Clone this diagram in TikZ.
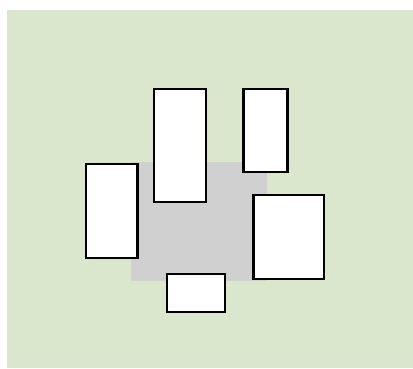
\documentclass[tikz,border=0pt]{standalone}
\definecolor{bggreen}{RGB}{218,231,204}
\definecolor{midgray}{RGB}{208,208,208}
\begin{document}
\begin{tikzpicture}[x=1pt,y=-1pt,
  box/.style={draw=black, fill=white, line width=2.4pt, inner sep=0pt, rectangle}]
\useasboundingbox (0,0) rectangle (413,368);
\fill[bggreen] (7,10) rectangle (413,368);
\fill[midgray] (131,161.7) rectangle (267,280.7);
\node[box, minimum width=51.3pt, minimum height=93.9pt] (a) at (111.85,211.2) {};
\node[box, minimum width=51.9pt, minimum height=112.9pt] (b) at (180.2,145.35) {};
\node[box, minimum width=44pt, minimum height=83.2pt] (c) at (265.5,130.5) {};
\node[box, minimum width=70.6pt, minimum height=83.6pt] (d) at (288.8,237) {};
\node[box, minimum width=57.6pt, minimum height=37.9pt] (e) at (196,292.85) {};
\end{tikzpicture}
\end{document}
